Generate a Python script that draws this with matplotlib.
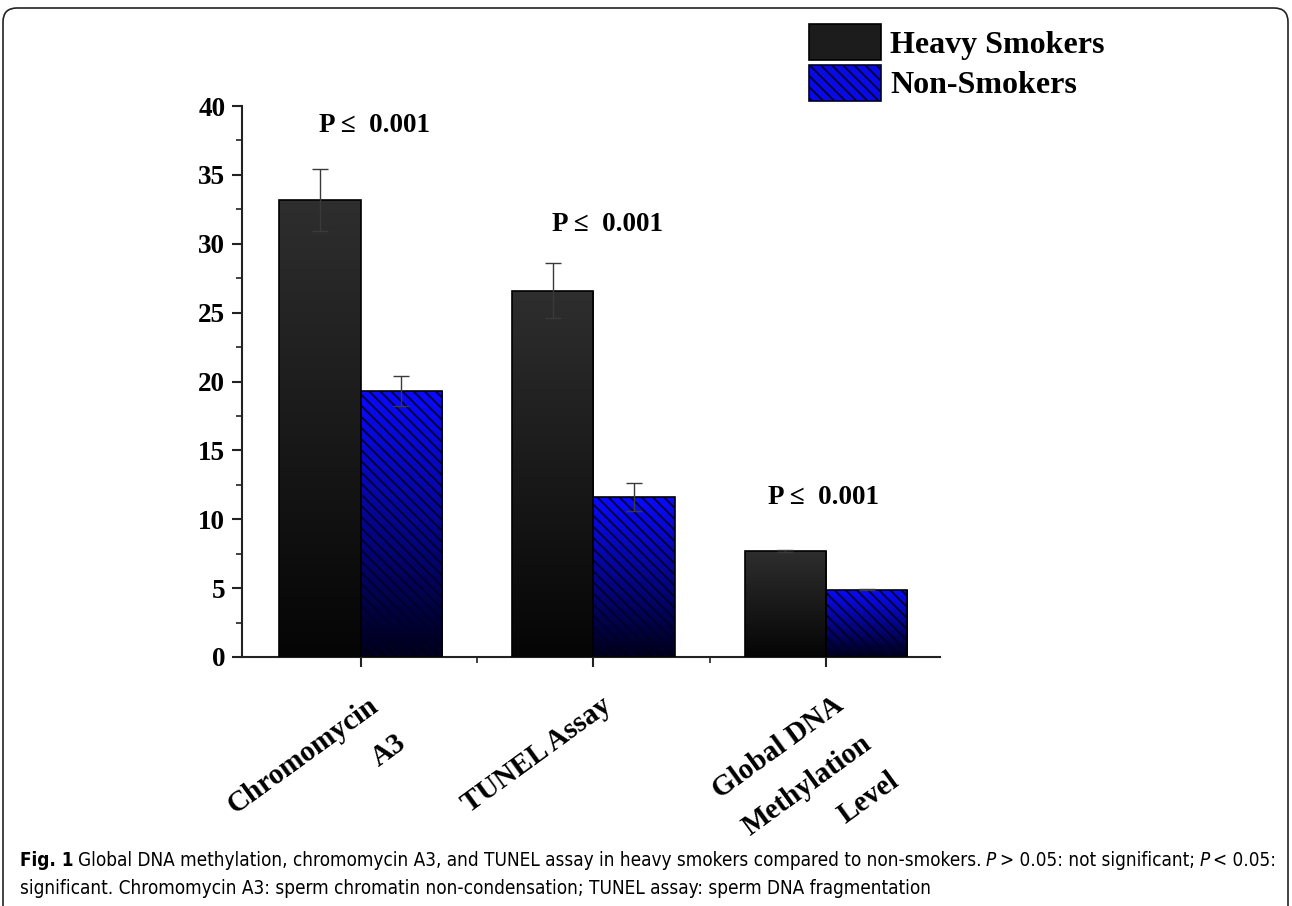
import numpy as np
import matplotlib
matplotlib.use('Agg')
import matplotlib.pyplot as plt
from matplotlib import font_manager
from matplotlib.patches import Patch, FancyBboxPatch
from matplotlib.ticker import MultipleLocator
from matplotlib.transforms import ScaledTranslation, IdentityTransform

# ============================================================
# DATA
# ============================================================
categories = ['Chromomycin\nA3', 'TUNEL Assay', 'Global DNA\nMethylation\nLevel']
heavy_smokers = [33.2, 26.6, 7.7]
heavy_err = [2.25, 2.0, 0.07]
non_smokers = [19.3, 11.6, 4.9]
non_err = [1.1, 1.0, 0.04]
p_labels = ['P \u2264  0.001', 'P \u2264  0.001', 'P \u2264  0.001']
p_x = [1.06, 2.06, 2.99]
p_y = [38.6, 31.4, 11.6]
series_names = ['Heavy Smokers', 'Non-Smokers']

caption_1 = [('Fig. 1', 'bold', 'normal'),
             ('Global DNA methylation, chromomycin A3, and TUNEL assay in heavy smokers compared to non-smokers.', 'normal', 'normal'),
             ('P', 'normal', 'italic'),
             ('> 0.05: not significant;', 'normal', 'normal'),
             ('P', 'normal', 'italic'),
             ('< 0.05:', 'normal', 'normal')]
caption_2 = 'significant. Chromomycin A3: sperm chromatin non-condensation; TUNEL assay: sperm DNA fragmentation'

# ============================================================
# STYLE
# ============================================================
SERIF = 'Liberation Serif'

# look for a narrow sans for the caption
cands = []
for f in font_manager.fontManager.ttflist:
    nm = f.name.lower()
    if 'serif' in nm or 'mono' in nm:
        continue
    if 'narrow' in nm or 'condensed' in nm or 'condensed' in str(f.stretch):
        cands.append(f)
if cands:
    CAP_FONT = dict(family=cands[0].name, stretch=cands[0].stretch)
else:
    CAP_FONT = dict(family='DejaVu Sans')

plt.rcParams['hatch.linewidth'] = 1.3

W, H = 1292, 906
fig = plt.figure(figsize=(W/100, H/100), dpi=100)
ax = fig.add_axes([242/W, 1-657/H, (940-242)/W, (657-106)/H])

x = np.arange(1, len(categories)+1)
bw = 0.35


def gradient_fill(patch, top, bottom, n=64):
    bb = patch.get_bbox()
    t = np.linspace(0, 1, n)[:, None, None]
    top = np.array(matplotlib.colors.to_rgb(top))[None, None, :]
    bottom = np.array(matplotlib.colors.to_rgb(bottom))[None, None, :]
    img = bottom*(1-t) + top*t
    im = ax.imshow(img, extent=[bb.x0, bb.x1, bb.y0, bb.y1], origin='lower',
                   aspect='auto', zorder=1, interpolation='bilinear')
    im.set_clip_path(patch)


hs_bars = ax.bar(x - bw/2, heavy_smokers, bw, facecolor='none', edgecolor='black',
                 linewidth=1.2, zorder=3)
ns_hatch = ax.bar(x + bw/2, non_smokers, bw, facecolor='none', edgecolor='#00002a',
                  linewidth=0, hatch='\\\\\\', zorder=2)
ns_bars = ax.bar(x + bw/2, non_smokers, bw, facecolor='none', edgecolor='black',
                 linewidth=1.2, zorder=3)

for p in hs_bars:
    gradient_fill(p, '#2e2e2e', '#050505')
for p in ns_bars:
    gradient_fill(p, '#0a0aff', '#000018')

ax.errorbar(x - bw/2, heavy_smokers, yerr=heavy_err, fmt='none', ecolor='#3a3a3a',
            elinewidth=1.0, capsize=6, capthick=1.0, zorder=4)
ax.errorbar(x + bw/2, non_smokers, yerr=non_err, fmt='none', ecolor='#3a3a3a',
            elinewidth=1.0, capsize=6, capthick=1.0, zorder=4)

for px, py, lab in zip(p_x, p_y, p_labels):
    ax.text(px, py, lab, ha='center', va='center', family=SERIF,
            fontweight='bold', fontsize=19.5)

ax.set_xlim(0.49, 3.49)
ax.set_ylim(0, 40)

for s in ['top', 'right']:
    ax.spines[s].set_visible(False)
for s in ['left', 'bottom']:
    ax.spines[s].set_linewidth(1.5)
    ax.spines[s].set_color('#222222')

ax.yaxis.set_major_locator(MultipleLocator(5))
ax.yaxis.set_minor_locator(MultipleLocator(2.5))
ax.set_xticks(x)
ax.set_xticks([1.5, 2.5], minor=True)
ax.tick_params(which='major', direction='out', length=7, width=1.5, color='#222222')
ax.tick_params(which='minor', direction='out', length=4, width=1.2, color='#222222')
ax.tick_params(axis='y', pad=5)

for lab in ax.get_yticklabels():
    lab.set_fontfamily(SERIF)
    lab.set_fontweight('bold')
    lab.set_fontsize(19.5)

ax.set_xticklabels(categories, rotation=36, ha='right', va='top', rotation_mode='anchor',
                   multialignment='right', linespacing=1.95, family=SERIF,
                   fontweight='bold', fontsize=21)
for lab in ax.get_xticklabels():
    lab.set_transform(lab.get_transform() + ScaledTranslation(0.07, -0.20, fig.dpi_scale_trans))

# legend
handles = [Patch(facecolor='#1c1c1c', edgecolor='black', linewidth=1.2),
           Patch(facecolor='#0a0ae6', edgecolor='#00002a', hatch='\\\\\\', linewidth=1.2)]
fig.legend(handles, series_names, loc='upper left', bbox_to_anchor=(809/W, 1-24/H),
           frameon=False, prop=dict(family=SERIF, weight='bold', size=23),
           handlelength=2.25, handleheight=1.35, handletextpad=0.3,
           labelspacing=0.15, borderpad=0, borderaxespad=0)

# caption
cap_ax = fig.add_axes([0, 0, 1, 1])
cap_ax.set_axis_off()
cap_ax.set_xlim(0, 1)
cap_ax.set_ylim(0, 1)
cap_size = 15
cap_texts = []
prev = None
for text, weight, style in caption_1:
    if prev is None:
        prev = cap_ax.text(20/W, 1-866/H, text, fontweight=weight, fontstyle=style,
                           fontsize=cap_size, va='baseline', ha='left', **CAP_FONT)
    else:
        prev = cap_ax.annotate(text, xy=(1, 0), xycoords=prev, xytext=(3, 0),
                               textcoords='offset points', va='bottom', ha='left',
                               fontweight=weight, fontstyle=style, fontsize=cap_size,
                               **CAP_FONT)
    cap_texts.append(prev)
cap_texts.append(cap_ax.text(20/W, 1-894/H, caption_2, fontsize=cap_size, va='baseline',
                             ha='left', **CAP_FONT))

# shrink caption so line 1 ends where the reference does
fig.canvas.draw()
r = fig.canvas.get_renderer()
right = cap_texts[len(caption_1)-1].get_window_extent(r).x1
scale = (1280 - 20) / (right - 20)
if scale < 1:
    for t in cap_texts:
        t.set_fontsize(cap_size * scale)

# rounded frame
frame = FancyBboxPatch((3, -30), 1285, 928, boxstyle='round,pad=0,rounding_size=14',
                       transform=IdentityTransform(), facecolor='none',
                       edgecolor='#222222', linewidth=1.2)
fig.add_artist(frame)

fig.savefig('out.png', dpi=100, facecolor='white')
